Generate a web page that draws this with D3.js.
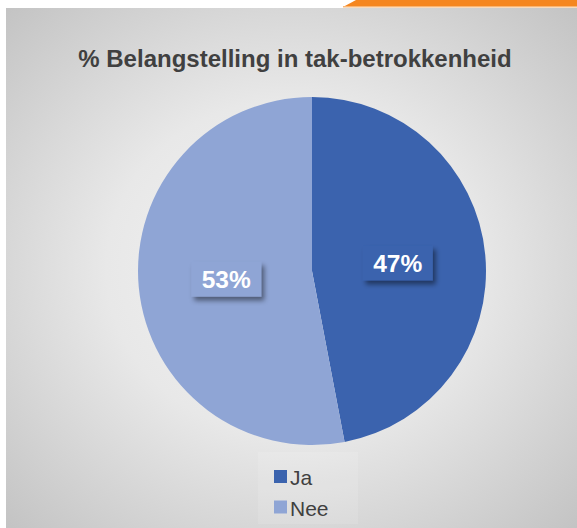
<!DOCTYPE html>
<html><head><meta charset="utf-8">
<script src="https://cdn.jsdelivr.net/npm/d3@7"></script>
<style>html,body{margin:0;padding:0;background:#fff;}svg{display:block;}</style>
</head><body>
<script>
const categories = ["Ja", "Nee"];
const values = [47, 53];
const colors = ["#3b63ae", "#8fa5d5"];
const title = "% Belangstelling in tak-betrokkenheid";

const W = 577, H = 528;
const svg = d3.select("body").append("svg").attr("width", W).attr("height", H);
const defs = svg.append("defs");
const rg = defs.append("radialGradient").attr("id", "bg").attr("cx", "50%").attr("cy", "50%").attr("r", "72%");
rg.append("stop").attr("offset", "0%").attr("stop-color", "#f4f4f4");
rg.append("stop").attr("offset", "45%").attr("stop-color", "#e8e8e8");
rg.append("stop").attr("offset", "100%").attr("stop-color", "#c2c2c2");
const f = defs.append("filter").attr("id", "sh").attr("x", "-20%").attr("y", "-20%").attr("width", "150%").attr("height", "160%");
f.append("feDropShadow").attr("dx", 3).attr("dy", 4).attr("stdDeviation", 2.5).attr("flood-color", "#000").attr("flood-opacity", 0.45);

// orange header strip
svg.append("path").attr("d", "M343,7 L356,0 L577,0 L577,7 Z").attr("fill", "#f5861f");
svg.append("rect").attr("x", 343).attr("y", 6).attr("width", 234).attr("height", 1.5).attr("fill", "#f8b574");

// chart area
svg.append("rect").attr("x", 6).attr("y", 8).attr("width", W - 6).attr("height", H - 8).attr("fill", "url(#bg)");

svg.append("text").attr("x", 295).attr("y", 67).attr("text-anchor", "middle")
  .attr("font-family", "Liberation Sans, Arial, sans-serif").attr("font-weight", "bold")
  .attr("font-size", 24).attr("fill", "#404040").text(title);

const cx = 312, cy = 271, R = 174;
const pie = d3.pie().sort(null).value(d => d)(values);
const arc = d3.arc().innerRadius(0).outerRadius(R);
const g = svg.append("g").attr("transform", `translate(${cx},${cy})`);
g.selectAll("path").data(pie).join("path").attr("d", arc).attr("fill", (d, i) => colors[i]);

// labels
const labelArc = d3.arc().innerRadius(R * 0.495).outerRadius(R * 0.495);
const tot = d3.sum(values);
pie.forEach((d, i) => {
  const [lx, ly] = labelArc.centroid(d);
  const lg = g.append("g").attr("transform", `translate(${lx},${ly})`);
  lg.append("rect").attr("x", -35).attr("y", -17.5).attr("width", 70).attr("height", 35)
    .attr("fill", colors[i]).attr("filter", "url(#sh)");
  lg.append("text").attr("text-anchor", "middle").attr("y", 9)
    .attr("font-family", "Liberation Sans, Arial, sans-serif").attr("font-weight", "bold")
    .attr("font-size", 24.5).attr("fill", "#fff").text(Math.round(d.data / tot * 100) + "%");
});

// legend
svg.append("rect").attr("x", 258).attr("y", 452).attr("width", 100).attr("height", 72).attr("fill", "#fff").attr("opacity", 0.12);
const leg = svg.append("g").attr("transform", "translate(274,470)");
categories.forEach((c, i) => {
  const row = leg.append("g").attr("transform", `translate(0,${i * 30.5})`);
  row.append("rect").attr("width", 13).attr("height", 13).attr("fill", colors[i]);
  row.append("text").attr("x", 16).attr("y", 15).attr("font-family", "Liberation Sans, Arial, sans-serif")
    .attr("font-size", 21).attr("fill", "#404040").text(c);
});
</script>
</body></html>
